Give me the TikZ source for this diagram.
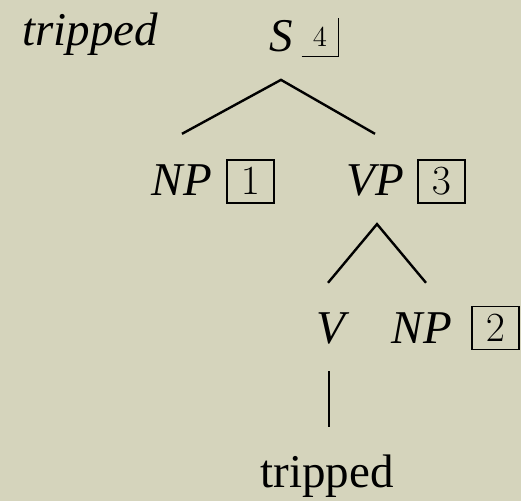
\documentclass[tikz,border=0pt]{standalone}
\usepackage{fontspec}
\setmainfont{Liberation Serif}
\definecolor{paper}{RGB}{213,212,188}
\begin{document}
\begin{tikzpicture}[x=0.5pt,y=-0.5pt,
  cat/.style={font=\fontsize{23.5}{28}\selectfont\itshape,inner sep=0pt,anchor=base},
  word/.style={font=\fontsize{23.5}{28}\selectfont,inner sep=0pt,anchor=base},
  idx/.style={draw,line width=0.7pt,inner sep=0pt,minimum width=23.5pt,minimum height=21.5pt,font=\fontsize{19.5}{24}\selectfont},
  branch/.style={line width=1.2pt}]
\fill[paper](0,0)rectangle(521,501);
\useasboundingbox(0,0)rectangle(521,501);
\node[cat](lex)at(90,46){tripped};
\node[cat](s)at(281,52){S};
\node[inner sep=0pt,minimum width=18pt,minimum height=19pt,font=\fontsize{15}{18}\selectfont](i4)at(320,37){$4$};
\draw[line width=0.7pt](i4.south west)--(i4.south east)--(i4.north east);
\foreach \nm/\lb/\x/\y in {np1/NP/182/196,vp/VP/375/196,v/V/331/344,np2/NP/422/344}{\node[cat](\nm)at(\x,\y){\lb};}
\foreach \nm/\lb/\x/\y in {i1/1/250.5/181.5,i3/3/441.5/181.5,i2/2/495.5/328}{\node[idx](\nm)at(\x,\y){$\lb$};}
\node[word](w)at(327,488){tripped};
% branches
\draw[branch]([yshift=15.5pt]np1.north)--([yshift=-13.5pt]s.south)--([yshift=15.5pt]vp.north);
\draw[branch]([xshift=-1.5pt,yshift=15pt]v.north)--([xshift=1pt,yshift=-13.5pt]vp.south)--([xshift=2pt,yshift=15pt]np2.north);
\draw[branch]([xshift=-1pt,yshift=-13pt]v.south)--([xshift=-1pt,yshift=14pt]v.south|-w.north);
\end{tikzpicture}
\end{document}
